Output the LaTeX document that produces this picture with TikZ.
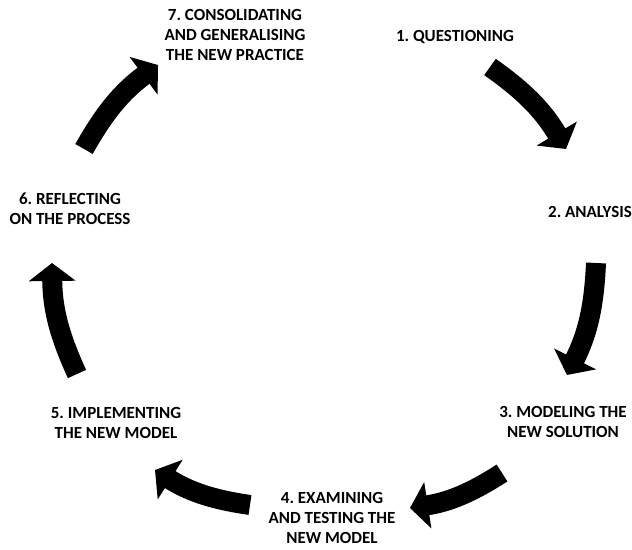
\documentclass[tikz,border=0pt]{standalone}
\usepackage{fontspec}
\setmainfont{Carlito}
\usepackage{tikz}
\usetikzlibrary{arrows.meta}
\frenchspacing

\begin{document}
\begin{tikzpicture}[x=1pt, y=1pt,
  stage/.style={align=center, inner sep=0pt, font=\fontsize{17}{20}\selectfont\bfseries},
  cyc/.style={line width=20pt, -{Triangle[width=46pt, length=18pt]}, bend left=12}]

\useasboundingbox (0,0) rectangle (632,549);

\node [stage] (quest) at (455,512) {1. QUESTIONING};
\node [stage] (anal) at (590,337) {2. ANALYSIS};
\node [stage] (model) at (563,127) {3. MODELING THE\\NEW SOLUTION};
\node [stage] (exam) at (332,31) {4. EXAMINING\\AND TESTING THE\\NEW MODEL};
\node [stage] (impl) at (116,126) {5. IMPLEMENTING\\THE NEW MODEL};
\node [stage] (refl) at (70,340) {6. REFLECTING\\ON THE PROCESS};
\node [stage] (cons) at (235,514) {7. CONSOLIDATING\\AND GENERALISING\\THE NEW PRACTICE};

\coordinate (q1) at (490,482);
\coordinate (q2) at (566,400);
\coordinate (a1) at (596,286);
\coordinate (a2) at (567,174);
\coordinate (m1) at (502,76);
\coordinate (m2) at (410,41);
\coordinate (e1) at (250,44);
\coordinate (e2) at (155,79);
\coordinate (i1) at (77,175);
\coordinate (i2) at (52,286);
\coordinate (r1) at (84,400);
\coordinate (r2) at (158,484);

\draw [cyc] (q1) to (q2);
\draw [cyc] (a1) to (a2);
\draw [cyc] (m1) to (m2);
\draw [cyc] (e1) to (e2);
\draw [cyc] (i1) to (i2);
\draw [cyc] (r1) to (r2);

\end{tikzpicture}
\end{document}
